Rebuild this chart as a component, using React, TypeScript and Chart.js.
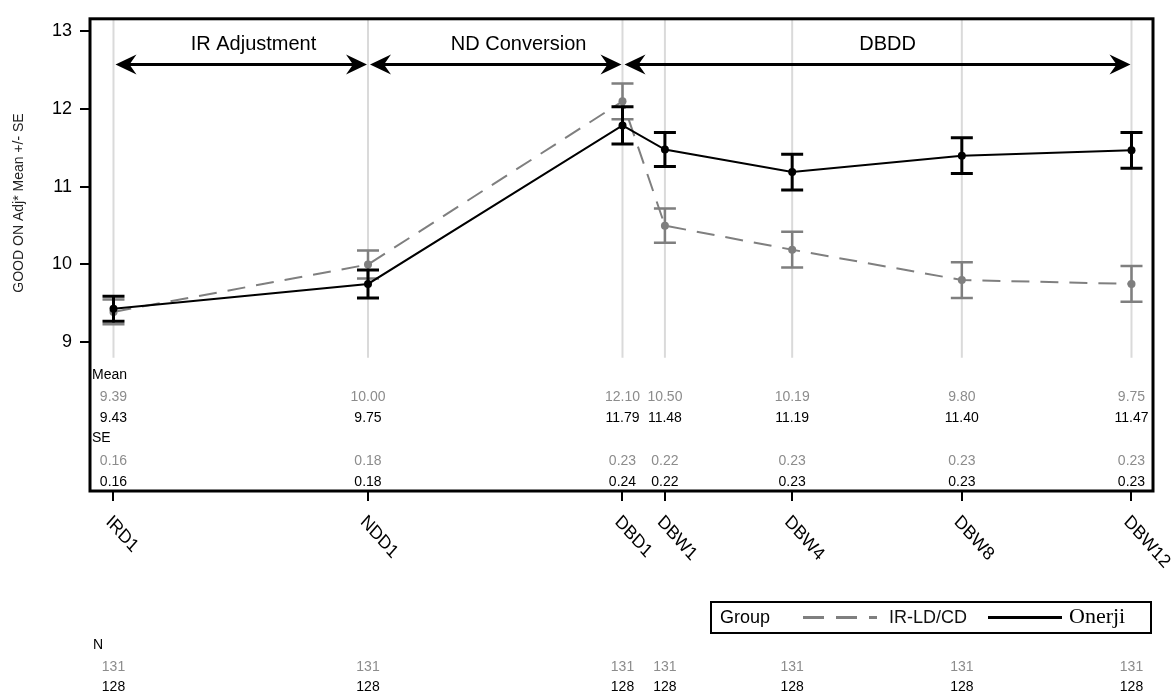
import React, { useEffect, useRef } from "react";
import { Chart, registerables } from "chart.js";

Chart.register(...registerables);

// ---- data ----
const visits = ["IRD1", "NDD1", "DBD1", "DBW1", "DBW4", "DBW8", "DBW12"];
const visitWeek = [-12, -6, 0, 1, 4, 8, 12];
const irMean = [9.39, 10.0, 12.1, 10.5, 10.19, 9.8, 9.75];
const irSE = [0.16, 0.18, 0.23, 0.22, 0.23, 0.23, 0.23];
const onMean = [9.43, 9.75, 11.79, 11.48, 11.19, 11.4, 11.47];
const onSE = [0.16, 0.18, 0.24, 0.22, 0.23, 0.23, 0.23];
const irN = [131, 131, 131, 131, 131, 131, 131];
const onN = [128, 128, 128, 128, 128, 128, 128];
const yTicks = [9, 10, 11, 12, 13];
const phaseLabels = ["IR Adjustment", "ND Conversion", "DBDD"];
const phaseStart = [-12, -6, 0];
const phaseEnd = [-6, 0, 12];
const phaseLabelWeek = [-8.7, -2.45, 6.25];
const phaseArrowLeft = [true, true, true];
const phaseArrowRight = [true, true, true];
const groupNames = ["IR-LD/CD", "Onerji"];

const GRAY = "#7f7f7f";
const TEXT_GRAY = "#8c8c8c";
const SANS = "'Liberation Sans', Arial, sans-serif";
const SERIF = "'Liberation Serif', 'Times New Roman', serif";

function arrowHead(ctx: CanvasRenderingContext2D, tipX: number, y: number, dir: number) {
  // dir = -1 points left, +1 points right
  ctx.beginPath();
  ctx.moveTo(tipX, y);
  ctx.lineTo(tipX - dir * 21, y - 10);
  ctx.lineTo(tipX - dir * 14, y);
  ctx.lineTo(tipX - dir * 21, y + 10);
  ctx.closePath();
  ctx.fill();
}

const decorPlugin = {
  id: "decor",
  beforeDatasetsDraw(chart: any) {
    const ctx = chart.ctx;
    const xs = chart.scales.x;
    const ys = chart.scales.y;
    const { top } = chart.chartArea;
    ctx.save();
    ctx.strokeStyle = "#dadada";
    ctx.lineWidth = 2;
    const yEnd = ys.getPixelForValue(8.8);
    visitWeek.forEach((w) => {
      const x = xs.getPixelForValue(w);
      ctx.beginPath();
      ctx.moveTo(x, top);
      ctx.lineTo(x, yEnd);
      ctx.stroke();
    });
    ctx.restore();
  },
  afterDatasetDraw(chart: any, args: any) {
    const ctx = chart.ctx;
    const xs = chart.scales.x;
    const ys = chart.scales.y;
    const ds = chart.data.datasets[args.index];
    const se: number[] = ds.se;
    ctx.save();
    ctx.strokeStyle = ds.borderColor;
    ctx.lineWidth = ds.errWidth;
    ctx.setLineDash([]);
    ds.data.forEach((p: any, i: number) => {
      const x = xs.getPixelForValue(p.x);
      const y1 = ys.getPixelForValue(p.y + se[i]);
      const y2 = ys.getPixelForValue(p.y - se[i]);
      ctx.beginPath();
      ctx.moveTo(x, y1);
      ctx.lineTo(x, y2);
      ctx.moveTo(x - 11, y1);
      ctx.lineTo(x + 11, y1);
      ctx.moveTo(x - 11, y2);
      ctx.lineTo(x + 11, y2);
      ctx.stroke();
    });
    ctx.restore();
  },
  afterDraw(chart: any) {
    const ctx = chart.ctx;
    const xs = chart.scales.x;
    const ys = chart.scales.y;
    const { left, right, top, bottom } = chart.chartArea;
    ctx.save();

    // frame
    ctx.strokeStyle = "#000";
    ctx.lineWidth = 3;
    ctx.strokeRect(left, top, right - left, bottom - top);

    // phase arrows
    const ay = ys.getPixelForValue(12.575);
    ctx.fillStyle = "#000";
    ctx.strokeStyle = "#000";
    ctx.lineWidth = 3;
    phaseLabels.forEach((lab, i) => {
      const x1 = xs.getPixelForValue(phaseStart[i]) + 2;
      const x2 = xs.getPixelForValue(phaseEnd[i]) - 1;
      ctx.beginPath();
      ctx.moveTo(x1 + 10, ay);
      ctx.lineTo(x2 - 10, ay);
      ctx.stroke();
      if (phaseArrowLeft[i]) arrowHead(ctx, x1, ay, -1);
      if (phaseArrowRight[i]) arrowHead(ctx, x2, ay, 1);
      ctx.font = `20px ${SANS}`;
      ctx.textAlign = "center";
      ctx.textBaseline = "middle";
      ctx.fillText(lab, xs.getPixelForValue(phaseLabelWeek[i]), ay - 20);
    });

    // inner table (Mean / SE)
    ctx.font = `14px ${SANS}`;
    ctx.textBaseline = "middle";
    ctx.textAlign = "left";
    ctx.fillStyle = "#000";
    ctx.fillText("Mean", left + 2, 375);
    ctx.fillText("SE", left + 2, 438);
    ctx.textAlign = "center";
    visitWeek.forEach((w, i) => {
      let x = xs.getPixelForValue(w);
      if (x + 16 > right) x = right - 18;
      ctx.fillStyle = TEXT_GRAY;
      ctx.fillText(irMean[i].toFixed(2), x, 397);
      ctx.fillText(irSE[i].toFixed(2), x, 461);
      ctx.fillStyle = "#000";
      ctx.fillText(onMean[i].toFixed(2), x, 418);
      ctx.fillText(onSE[i].toFixed(2), x, 482);
    });

    // x tick labels rotated
    ctx.font = `19px ${SANS}`;
    ctx.fillStyle = "#000";
    ctx.textAlign = "left";
    ctx.textBaseline = "middle";
    visitWeek.forEach((w, i) => {
      const x = xs.getPixelForValue(w);
      ctx.save();
      ctx.translate(x - 5, bottom + 28);
      ctx.scale(0.88, 1);
      ctx.rotate(Math.PI / 4);
      ctx.fillText(visits[i], 0, 0);
      ctx.restore();
    });

    // y-axis title
    ctx.save();
    ctx.translate(19, 203);
    ctx.rotate(-Math.PI / 2);
    ctx.font = `14px ${SANS}`;
    ctx.fillStyle = "#222";
    ctx.textAlign = "center";
    ctx.textBaseline = "middle";
    ctx.fillText("GOOD ON Adj* Mean +/- SE", 0, 0);
    ctx.restore();

    // legend
    const lx = 711, ly = 602, lw = 440, lh = 31;
    const cy = ly + lh / 2;
    ctx.lineWidth = 2;
    ctx.strokeStyle = "#000";
    ctx.strokeRect(lx, ly, lw, lh);
    ctx.fillStyle = "#000";
    ctx.font = `18px ${SANS}`;
    ctx.textAlign = "left";
    ctx.textBaseline = "middle";
    ctx.fillText("Group", lx + 9, cy + 1);
    ctx.lineWidth = 3;
    ctx.strokeStyle = GRAY;
    ctx.setLineDash([21, 12]);
    ctx.beginPath();
    ctx.moveTo(lx + 92, cy);
    ctx.lineTo(lx + 166, cy);
    ctx.stroke();
    ctx.setLineDash([]);
    ctx.fillStyle = "#111";
    ctx.fillText(groupNames[0], lx + 178, cy + 1);
    ctx.strokeStyle = "#000";
    ctx.beginPath();
    ctx.moveTo(lx + 277, cy);
    ctx.lineTo(lx + 351, cy);
    ctx.stroke();
    ctx.font = `22px ${SERIF}`;
    ctx.fillStyle = "#000";
    ctx.fillText(groupNames[1], lx + 358, cy);

    // N table
    ctx.font = `14px ${SANS}`;
    ctx.textAlign = "left";
    ctx.fillStyle = "#000";
    ctx.fillText("N", left + 3, 645);
    ctx.textAlign = "center";
    visitWeek.forEach((w, i) => {
      const x = xs.getPixelForValue(w);
      ctx.fillStyle = TEXT_GRAY;
      ctx.fillText(String(irN[i]), x, 667);
      ctx.fillStyle = "#000";
      ctx.fillText(String(onN[i]), x, 687);
    });

    ctx.restore();
  },
};

export default function App() {
  const ref = useRef<HTMLCanvasElement>(null);
  useEffect(() => {
    const canvas = ref.current!;
    const chart = new Chart(canvas, {
      type: "line",
      data: {
        datasets: [
          {
            label: groupNames[0],
            data: visitWeek.map((w, i) => ({ x: w, y: irMean[i] })),
            borderColor: GRAY,
            backgroundColor: GRAY,
            borderWidth: 2,
            borderDash: [18, 11],
            pointRadius: 4,
            pointBackgroundColor: GRAY,
            pointBorderColor: GRAY,
            pointBorderWidth: 0,
            order: 1,
            se: irSE,
            errWidth: 2.5,
          } as any,
          {
            label: groupNames[1],
            data: visitWeek.map((w, i) => ({ x: w, y: onMean[i] })),
            borderColor: "#000",
            backgroundColor: "#000",
            borderWidth: 2,
            pointRadius: 4,
            pointBackgroundColor: "#000",
            pointBorderColor: "#000",
            pointBorderWidth: 0,
            order: 0,
            se: onSE,
            errWidth: 3,
          } as any,
        ],
      },
      options: {
        animation: false,
        responsive: false,
        maintainAspectRatio: false,
        devicePixelRatio: 1,
        layout: { padding: { top: 14, right: 21, left: 0, bottom: 0 } },
        plugins: { legend: { display: false }, tooltip: { enabled: false } },
        scales: {
          x: {
            type: "linear",
            min: -12.554,
            max: 12.507,
            afterBuildTicks: (axis: any) => {
              axis.ticks = visitWeek.map((v) => ({ value: v }));
            },
            afterFit: (axis: any) => {
              axis.height = 202;
            },
            ticks: { display: false },
            grid: {
              drawOnChartArea: false,
              drawTicks: true,
              tickLength: 10,
              color: "#000",
              lineWidth: 2,
            },
            border: { display: false },
          },
          y: {
            type: "linear",
            min: 7.085,
            max: 13.162,
            afterBuildTicks: (axis: any) => {
              axis.ticks = yTicks.map((v) => ({ value: v }));
            },
            afterFit: (axis: any) => {
              axis.width = 90;
            },
            ticks: {
              color: "#000",
              padding: 8,
              font: { family: SANS, size: 18 },
              callback: (v: any) => String(v),
            },
            grid: {
              drawOnChartArea: false,
              drawTicks: true,
              tickLength: 10,
              color: "#000",
              lineWidth: 2,
            },
            border: { display: false },
          },
        },
      } as any,
      plugins: [decorPlugin],
    });
    return () => chart.destroy();
  }, []);
  return (
    <div style={{ position: "fixed", left: 0, top: 0, width: 1174, height: 693, background: "#fff" }}>
      <canvas ref={ref} width={1174} height={693} style={{ display: "block" }} />
    </div>
  );
}
